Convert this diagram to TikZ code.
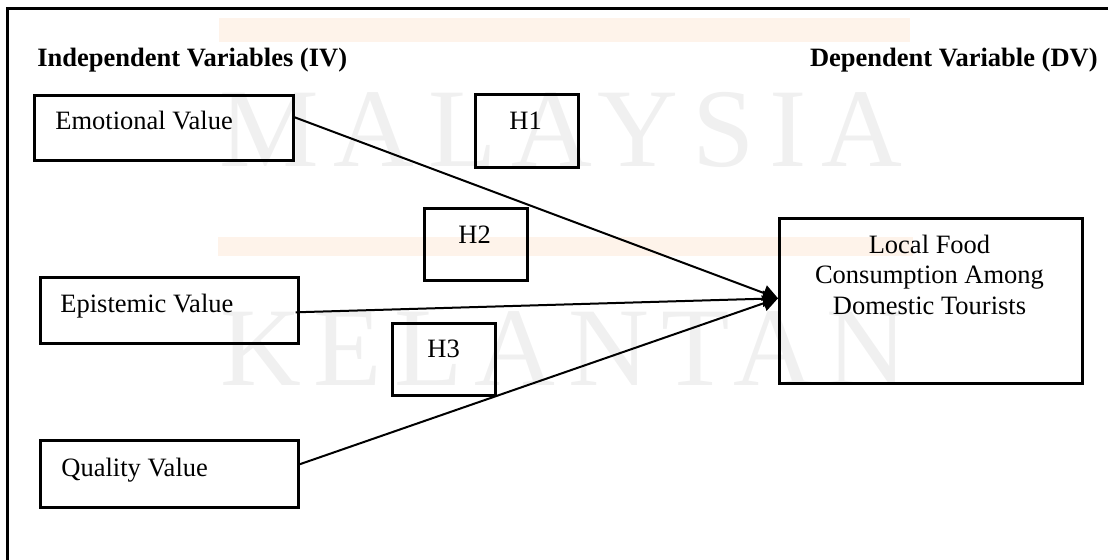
\documentclass[tikz,border=0pt]{standalone}
\usepackage{fontspec}
\setmainfont{Liberation Serif}
\newfontfamily\wmA[LetterSpace=13]{Liberation Serif}
\newfontfamily\wmB[LetterSpace=11]{Liberation Serif}
\usetikzlibrary{arrows.meta}
\definecolor{wmgray}{RGB}{240,240,240}
\definecolor{wmorange}{RGB}{254,243,234}
\tikzset{
  box/.style={draw, line width=1.3pt, inner sep=0pt, anchor=north west},
  lbl/.style={inner sep=0pt, anchor=base west, font=\fontsize{13.25pt}{15.25pt}\selectfont},
  ttl/.style={inner sep=0pt, font=\fontsize{13.25pt}{15.25pt}\selectfont\bfseries},
  arr/.style={line width=1pt, -{Triangle[length=7.5pt,width=8pt]}},
  wm/.style={inner sep=0pt, anchor=base west, text=wmgray}
}
\begin{document}
\begin{tikzpicture}[x=0.5pt,y=-0.5pt]
\useasboundingbox (0,0) rectangle (1108,560);
% watermark
\fill[wmorange] (219,18) rectangle (910,42);
\fill[wmorange] (218,237) rectangle (913,256);
\node[wm, font=\fontsize{56pt}{60pt}\wmA] (wm1) at (219,167) {MALAYSIA};
\node[wm, font=\fontsize{56pt}{60pt}\wmB] (wm2) at (220,386) {KELANTAN};
% frame
\draw[line width=1.5pt] (1112,9) -- (7,9) -- (7,564);
% titles
\node[ttl, anchor=base west] (iv) at (37,66.5) {Independent Variables (IV)};
\node[ttl, anchor=base east] (dvt) at (1098,66.5) {Dependent Variable (DV)};
% boxes
\node[box, minimum width=129.5pt, minimum height=32.5pt] (emo) at (33,94) {};
\node[box, minimum width=51.5pt, minimum height=36.5pt] (h1) at (474,93) {};
\node[box, minimum width=51.5pt, minimum height=36pt] (h2) at (423,207) {};
\node[box, minimum width=51.5pt, minimum height=36pt] (h3) at (391,322) {};
\node[box, minimum width=129pt, minimum height=33pt] (epi) at (39,276) {};
\node[box, minimum width=129pt, minimum height=33.5pt] (qua) at (39,439) {};
\node[box, minimum width=151.5pt, minimum height=82.5pt] (dv) at (778,217) {};
% texts
\node[lbl] (emoT) at (55,130) {Emotional Value};
\node[lbl] (h1T) at (509,130) {H1};
\node[lbl] (h2T) at (458,244) {H2};
\node[lbl] (h3T) at (427,358) {H3};
\node[lbl] (epiT) at (60,313) {Epistemic Value};
\node[lbl] (quaT) at (61,477) {Quality Value};
\node[inner sep=0pt, align=center, font=\fontsize{13.25pt}{15.25pt}\selectfont] (dvT) at (929.5,274.5) {Local Food\\Consumption Among\\Domestic Tourists};
% connectors
\draw[arr] ([yshift=5.25pt]emo.east) -- ([yshift=1.25pt]dv.west);
\draw[arr] ([xshift=-2pt,yshift=-1pt]epi.east) -- ([yshift=1.25pt]dv.west);
\draw[arr] ([yshift=4.75pt]qua.east) -- ([yshift=1.25pt]dv.west);
\end{tikzpicture}
\end{document}
